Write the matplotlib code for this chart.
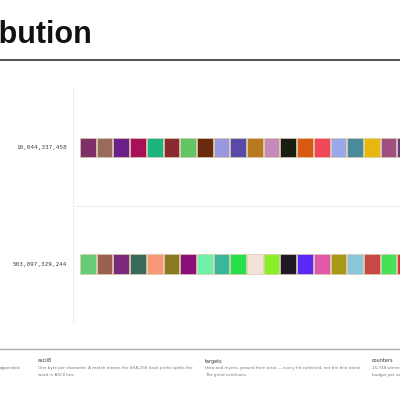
import matplotlib
matplotlib.use("Agg")
import matplotlib.pyplot as plt
from matplotlib.lines import Line2D

row_labels = ["10,044,337,458", "503,097,329,244"]
row1_colors = ["#7f2f6a", "#9a6a5c", "#6a1f8a", "#a81059", "#1db57e", "#8a2a2e", "#63c466",
               "#6a2a10", "#9898e0", "#5a4aa8", "#b87a20", "#c48ab8", "#1a1e10", "#d85a10",
               "#f04858", "#98a8e8", "#4a8a9a", "#e8b810", "#a05080", "#6a3a8a"]
row2_colors = ["#66cc77", "#9a6050", "#7a2a7a", "#3a6a5a", "#f89878", "#8a7a20", "#8a107a",
               "#70f0a8", "#38b898", "#28e048", "#f4e4d8", "#88f028", "#201a28", "#5a28f8",
               "#e058a8", "#a89818", "#88c8d8", "#c84848", "#48e058", "#d83838"]
rows = [row1_colors, row2_colors]

fig = plt.figure(figsize=(4, 4), dpi=100)
W = H = 400.0
def fx(px): return px / W
def fy(py): return 1 - py / H

# title (cropped at left)
fig.text(fx(92), fy(35), "Distribution", ha="right", va="center", fontsize=22,
         fontweight="bold", color="#111111", family="Liberation Sans")
fig.add_artist(Line2D([0, 1], [fy(60), fy(60)], color="#333333", lw=1.2))

ax = fig.add_axes([fx(73), fy(322), fx(400) - fx(73), (322 - 88) / H])
ax.set_xlim(-0.42, 19.16)
ax.set_ylim(1.5, -0.51)
for r, cols in enumerate(rows):
    ax.barh([r] * len(cols), [0.94] * len(cols), left=list(range(len(cols))), height=0.167,
            color=cols, edgecolor="#d8c8a8", linewidth=0.5, align="center")
ax.set_yticks(range(len(row_labels)))
ax.set_yticklabels(row_labels, family="DejaVu Sans Mono", fontsize=4.3, color="#444444")
ax.tick_params(axis="y", length=0, pad=4)
ax.set_xticks([])
for s in ["top", "right", "bottom"]:
    ax.spines[s].set_visible(False)
ax.spines["left"].set_color("#eeeeee")
ax.axhline(0.5, color="#eeeeee", lw=0.8)

# footer
fs = 3.0
fig.add_artist(Line2D([0, 1], [fy(349), fy(349)], color="#aaaaaa", lw=1.0))
fig.text(fx(0), fy(368), "appended", fontsize=fs, color="#777777", va="center")
fig.text(fx(38), fy(361), "ascii8", fontsize=3.5, color="#333333", va="center")
fig.text(fx(38), fy(368), "One byte per character. A match means the SHA-256 hash prefix spells the",
         fontsize=fs, color="#777777", va="center")
fig.text(fx(38), fy(375), "word in ASCII hex.", fontsize=fs, color="#777777", va="center")
fig.text(fx(205), fy(361), "targets", fontsize=3.5, color="#333333", va="center")
fig.text(fx(205), fy(368), "thea and myers, ground from ariot — every hit collected, not the first alone.",
         fontsize=fs, color="#777777", va="center")
fig.text(fx(205), fy(375), "The grind continues.", fontsize=fs, color="#777777", va="center")
fig.text(fx(372), fy(361), "counters", fontsize=3.5, color="#333333", va="center")
fig.text(fx(372), fy(368), "15,748 winners", fontsize=fs, color="#777777", va="center")
fig.text(fx(372), fy(375), "budget per second", fontsize=fs, color="#777777", va="center")

fig.savefig("out.png", dpi=100)
